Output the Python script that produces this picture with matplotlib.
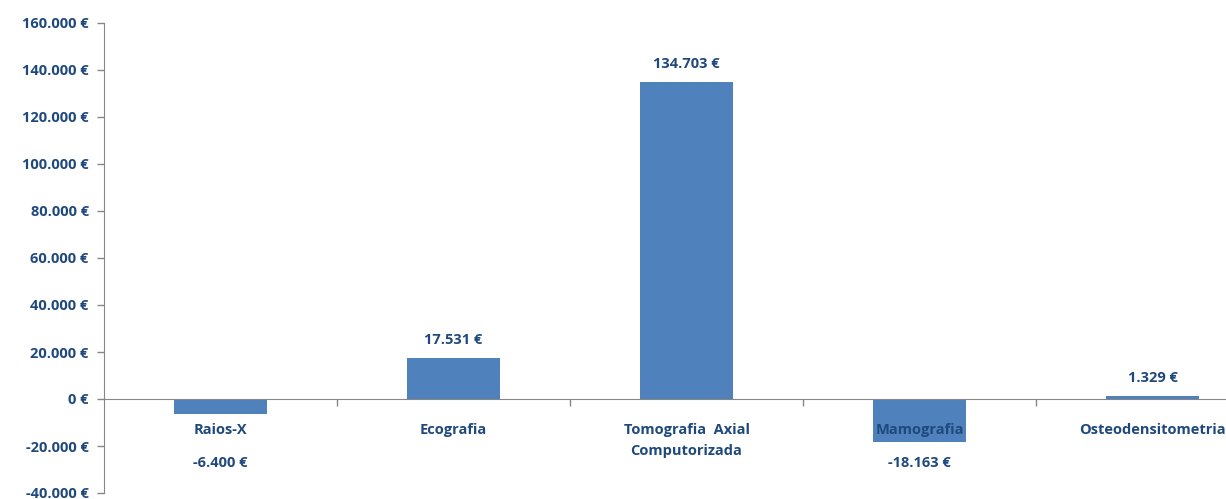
import matplotlib

matplotlib.use('Agg')
import matplotlib.pyplot as plt
from matplotlib.ticker import FuncFormatter

plt.rcParams['font.family'] = ['Open Sans', 'DejaVu Sans']
plt.rcParams['font.weight'] = 'bold'

# Diferença de custos por tipo de exame
categorias = ["Raios-X", "Ecografia", "Tomografia  Axial\nComputorizada",
              "Mamografia", "Osteodensitometria"]
valores = [-6400, 17531, 134703, -18163, 1329]

azul_barra = "#4F81BD"
azul_texto = "#1F497D"
cinza_eixo = "#868686"
tamanho = 10.5


def euros(v, pos=None):
    return "{:,.0f}".format(v).replace(",", ".") + " €"


fig = plt.figure(figsize=(12.26, 4.99), dpi=100)
ax = fig.add_axes([104 / 1226, 6 / 499, 1165 / 1226, 470 / 499])

x = list(range(len(categorias)))
ax.bar(x, valores, width=0.4, color=azul_barra, zorder=2)

ax.set_xlim(-0.5, len(categorias) - 0.5)
ax.set_ylim(-40000, 160000)
ax.set_yticks(range(-40000, 160001, 20000))
ax.yaxis.set_major_formatter(FuncFormatter(euros))
ax.tick_params(axis='y', direction='out', length=5, width=1, color=cinza_eixo,
               labelcolor=azul_texto, labelsize=tamanho, pad=6)
for lab in ax.get_yticklabels():
    lab.set_fontweight('bold')

# eixo x na linha do zero, marcas nas fronteiras das categorias
ax.spines['bottom'].set_position(('data', 0))
ax.spines['bottom'].set_color(cinza_eixo)
ax.spines['left'].set_color(cinza_eixo)
ax.spines['top'].set_visible(False)
ax.spines['right'].set_visible(False)
ax.set_xticks([i + 0.5 for i in x])
ax.set_xticklabels([])
ax.tick_params(axis='x', direction='out', length=5, width=1, color=cinza_eixo)

for i, (cat, v) in enumerate(zip(categorias, valores)):
    ax.annotate(cat, xy=(i, 0), xytext=(0, -24), textcoords='offset pixels',
                ha='center', va='top', color=azul_texto, fontsize=tamanho,
                fontweight='bold', linespacing=1.6, zorder=3)
    if v >= 0:
        ax.annotate(euros(v), xy=(i, v), xytext=(0, 18), textcoords='offset pixels',
                    ha='center', va='center', color=azul_texto, fontsize=tamanho,
                    fontweight='bold')
    else:
        ax.annotate(euros(v), xy=(i, -18163), xytext=(0, -21), textcoords='offset pixels',
                    ha='center', va='center', color=azul_texto, fontsize=tamanho,
                    fontweight='bold')

fig.savefig("out.png", dpi=100, facecolor="white")
